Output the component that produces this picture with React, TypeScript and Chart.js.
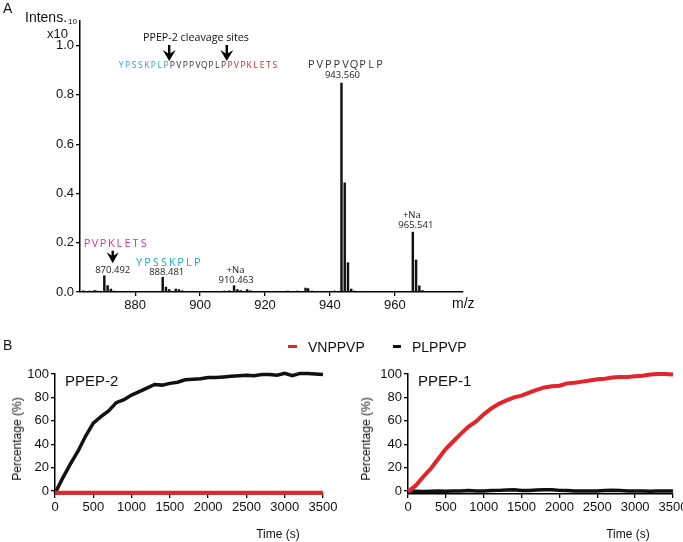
import React, { useEffect, useRef } from "react";
import { Chart, registerables } from "chart.js";
Chart.register(...registerables);

// ---------- Panel A: mass spectrum ----------
const mzValues = [
  864.0, 866.0, 867.5, 868.3, 870.492, 871.5, 872.5, 873.4, 875.0, 878.0, 883.0, 886.0,
  888.481, 889.5, 890.5, 892.5, 893.5, 894.5, 897.0, 901.0, 905.0, 907.5, 909.0,
  910.463, 911.5, 912.5, 914.5, 915.5, 918.0, 921.0, 924.0, 927.0, 930.0, 932.5, 933.3,
  934.5, 936.0, 938.0, 940.0, 941.5, 943.56, 944.56, 945.56, 946.56, 947.5, 950.0,
  964.0, 965.541, 966.54, 967.54, 968.5,
];
const intensities = [
  0.005, 0.004, 0.006, 0.004, 0.066, 0.026, 0.012, 0.004, 0.003, 0.003, 0.003, 0.003,
  0.06, 0.02, 0.01, 0.012, 0.01, 0.005, 0.003, 0.003, 0.003, 0.004, 0.005,
  0.026, 0.01, 0.006, 0.01, 0.005, 0.003, 0.003, 0.003, 0.004, 0.004, 0.016, 0.014,
  0.004, 0.003, 0.003, 0.003, 0.004, 0.848, 0.443, 0.119, 0.012, 0.004, 0.003,
  0.003, 0.243, 0.13, 0.025, 0.006,
];
const mzTicks = [880, 900, 920, 940, 960];
const intensTicks = [0, 0.2, 0.4, 0.6, 0.8, 1.0];

// ---------- Panel B: kinetics ----------
const timeS = [
  0, 100, 200, 300, 400, 500, 600, 700, 800, 900, 1000, 1100, 1200, 1300, 1400, 1500, 1600, 1700,
  1800, 1900, 2000, 2100, 2200, 2300, 2400, 2500, 2600, 2700, 2800, 2900, 3000, 3100, 3200, 3300,
  3400, 3500,
];
const ppep2PLPPVP = [
  -2, 11, 23, 34, 47, 58, 63.5, 68.5, 75.5, 78, 82, 85, 88, 91, 90.5, 92, 93, 95, 95.5, 96, 97, 97,
  97.5, 98, 98.5, 99, 98.5, 99.5, 99.5, 99, 100.5, 98.5, 100.5, 100.5, 100, 99.5,
];
const ppep2VNPPVP = [
  -1.5, -1.5, -1.5, -1.5, -1.5, -1.5, -1.5, -1.5, -1.5, -1.5, -1.5, -1.5, -1.5, -1.5, -1.5, -1.5,
  -1.5, -1.5, -1.5, -1.5, -1.5, -1.5, -1.5, -1.5, -1.5, -1.5, -1.5, -1.5, -1.5, -1.5, -1.5, -1.5,
  -1.5, -1.5, -1.5, -1.5,
];
const ppep1VNPPVP = [
  -0.5, 4.5, 12, 19, 27.5, 36, 42.5, 49, 55, 59.5, 65.5, 70.5, 74.5, 77.5, 80, 81.5, 84, 86.5, 88.5,
  89.5, 90, 92, 92.5, 93.5, 94.5, 95.5, 96, 97, 97.5, 97.5, 98, 98.5, 99.5, 100, 100, 99.5,
];
const ppep1PLPPVP = [
  0, -0.3, -0.5, -0.3, 0, -0.3, 0, 0, 0.3, 0, 0, 0.3, 0.5, 0.8, 1, 0.3, 0.3, 0.8, 1, 1, 0.5, 0.3, 0,
  0, 0, 0, 0.3, 0.5, 0.3, 0, 0, 0, -0.3, 0, 0, 0,
];
const pctTicks = [0, 20, 40, 60, 80, 100];
const timeTicks = [0, 500, 1000, 1500, 2000, 2500, 3000, 3500];

const RED = "#e3242b";
const BLACK = "#111111";
const CYAN = "#22a7d4";
const MAGENTA = "#d9359b";
const AXIS_FONT = "'Liberation Sans', Arial, sans-serif";
const ANN_FONT = "'Open Sans', sans-serif";

function spacedText(ctx: CanvasRenderingContext2D, text: string, colors: string[], startX: number, cy: number, pitch: number, size: number) {
  ctx.font = `${size}px ${ANN_FONT}`;
  ctx.textAlign = "center";
  ctx.textBaseline = "middle";
  for (let i = 0; i < text.length; i++) {
    ctx.fillStyle = colors[i] || colors[colors.length - 1];
    ctx.fillText(text[i], startX + i * pitch + pitch / 2, cy);
  }
}

function arrow(ctx: CanvasRenderingContext2D, x: number, tailY: number, tipY: number, half: number) {
  ctx.fillStyle = "#000";
  const headTop = tipY - 11;
  ctx.fillRect(x - 1.2, tailY, 2.4, headTop - tailY + 4);
  ctx.beginPath();
  ctx.moveTo(x - half, headTop);
  ctx.lineTo(x, headTop + 4);
  ctx.lineTo(x + half, headTop);
  ctx.lineTo(x, tipY);
  ctx.closePath();
  ctx.fill();
}

const annotA = {
  id: "annotA",
  afterDatasetsDraw(chart: any) {
    const { ctx, scales } = chart;
    const xs = scales.x;
    const ys = scales.y;
    const peak = (mz: number) => {
      const i = mzValues.indexOf(mz);
      return { px: xs.getPixelForValue(mz), py: ys.getPixelForValue(intensities[i]) };
    };
    const label = (t: string, x: number, y: number, size = 9.5, color = "#222") => {
      ctx.font = `${size}px ${ANN_FONT}`;
      ctx.fillStyle = color;
      ctx.textAlign = "center";
      ctx.textBaseline = "middle";
      ctx.fillText(t, x, y);
    };
    ctx.save();
    // top sequence with cleavage sites
    label("PPEP-2 cleavage sites", 196, 38, 10.7, "#111");
    const seq = "YPSSKPLPPVPPVQPLPPVPKLETS";
    const cols: string[] = [];
    for (let i = 0; i < seq.length; i++) cols.push(i < 8 ? CYAN : i < 17 ? "#333" : RED);
    spacedText(ctx, seq, cols, 118, 66, 6.4, 8.5);
    arrow(ctx, 118 + 8 * 6.4, 45, 61, 6.5);
    arrow(ctx, 118 + 17 * 6.4, 45, 61, 6.5);

    let p = peak(943.56);
    label("943.560", p.px + 1, p.py - 8);
    spacedText(ctx, "PVPPVQPLP", ["#333"], p.px + 4 - 4.5 * 8.55, p.py - 18, 8.55, 11);

    p = peak(965.541);
    label("965.541", p.px + 3, p.py - 6.5);
    label("+Na", p.px - 1, p.py - 17);

    p = peak(870.492);
    label("870.492", p.px + 8.4, p.py - 5);
    arrow(ctx, p.px + 8.4, p.py - 25, p.py - 12.5, 6);
    spacedText(ctx, "PVPKLETS", [MAGENTA], p.px + 11 - 4 * 8.1, p.py - 32, 8.1, 11);

    p = peak(888.481);
    label("888.481", p.px + 4, p.py - 4.7);
    spacedText(ctx, "YPSSKPLP", [CYAN], p.px + 5.5 - 4 * 8.3, p.py - 14.3, 8.3, 11);

    p = peak(910.463);
    label("910.463", p.px + 2, p.py - 5.7);
    label("+Na", p.px + 1.5, p.py - 15.7);
    ctx.restore();
  },
};

function axisCommon(ticks: number[], fmt: (v: number) => string) {
  return {
    afterBuildTicks: (s: any) => {
      s.ticks = ticks.map((v) => ({ value: v }));
    },
    grid: { display: true, drawOnChartArea: false, drawTicks: true, tickLength: 4, color: "#000", lineWidth: 1.3, offset: false },
    border: { display: true, color: "#000", width: 1.5 },
    ticks: {
      font: { family: AXIS_FONT, size: 13 },
      color: "#111",
      padding: 2,
      maxRotation: 0,
      autoSkip: false,
      callback: (v: any) => fmt(Number(v)),
    },
  };
}

function SpectrumChart() {
  const ref = useRef<HTMLCanvasElement>(null);
  useEffect(() => {
    const chart = new Chart(ref.current!, {
      type: "bar",
      data: {
        datasets: [
          {
            data: mzValues.map((m, i) => ({ x: m, y: intensities[i] })),
            backgroundColor: BLACK,
            borderWidth: 0,
            barThickness: 1.8,
          } as any,
        ],
      },
      options: {
        animation: false,
        responsive: false,
        maintainAspectRatio: false,
        layout: { padding: { top: 21, right: 220, left: 0, bottom: 0 } },
        plugins: { legend: { display: false }, tooltip: { enabled: false } },
        scales: {
          x: {
            type: "linear",
            min: 863,
            max: 981,
            offset: false,
            ...axisCommon(mzTicks, (v) => String(v)),
            afterFit: (s: any) => {
              s.height = 28;
            },
          } as any,
          y: {
            min: 0,
            max: 1.1,
            ...axisCommon(intensTicks, (v) => v.toFixed(1)),
            afterFit: (s: any) => {
              s.width = 80;
            },
          } as any,
        },
      },
      plugins: [annotA],
    });
    return () => chart.destroy();
  }, []);
  return <canvas ref={ref} width={683} height={320} style={{ position: "absolute", left: 0, top: 0, width: 683, height: 320 }} />;
}

function KineticsChart(props: { left: number; width: number; axisX: number; padRight: number; red: number[]; black: number[]; redFirst: boolean }) {
  const ref = useRef<HTMLCanvasElement>(null);
  useEffect(() => {
    const redDs = {
      data: timeS.map((t, i) => ({ x: t, y: props.red[i] })),
      borderColor: RED,
      borderWidth: 4,
      pointRadius: 0,
      tension: 0,
      clip: false,
    };
    const blackDs = {
      data: timeS.map((t, i) => ({ x: t, y: props.black[i] })),
      borderColor: BLACK,
      borderWidth: 3.5,
      pointRadius: 0,
      tension: 0,
      clip: false,
    };
    const chart = new Chart(ref.current!, {
      type: "line",
      data: { datasets: (props.redFirst ? [blackDs, redDs] : [redDs, blackDs]) as any },
      options: {
        animation: false,
        responsive: false,
        maintainAspectRatio: false,
        layout: { padding: { top: 44, right: props.padRight, left: 0, bottom: 0 } },
        plugins: { legend: { display: false }, tooltip: { enabled: false } },
        scales: {
          x: {
            type: "linear",
            min: 0,
            max: 3500,
            ...axisCommon(timeTicks, (v) => String(v)),
            afterFit: (s: any) => {
              s.height = 48;
            },
          } as any,
          y: {
            min: -2.6,
            max: 100,
            ...axisCommon(pctTicks, (v) => String(v)),
            afterFit: (s: any) => {
              s.width = props.axisX - props.left;
            },
          } as any,
        },
      },
    });
    return () => chart.destroy();
  }, []);
  return (
    <canvas
      ref={ref}
      width={props.width}
      height={212}
      style={{ position: "absolute", left: props.left, top: 330, width: props.width, height: 212 }}
    />
  );
}

function Txt(props: { x: number; y: number; size: number; children: any; color?: string; rotate?: boolean; family?: string; align?: "center" | "left" }) {
  const tx = props.align === "left" ? "0" : "-50%";
  return (
    <div
      style={{
        position: "absolute",
        left: props.x,
        top: props.y,
        transform: `translate(${tx}, -50%)${props.rotate ? " rotate(-90deg)" : ""}`,
        fontFamily: props.family || AXIS_FONT,
        fontSize: props.size,
        lineHeight: 1,
        whiteSpace: "nowrap",
        color: props.color || "#111",
      }}
    >
      {props.children}
    </div>
  );
}

export default function App() {
  return (
    <div style={{ position: "absolute", left: 0, top: 0, width: 683, height: 542, overflow: "hidden", background: "#fff" }}>
      <SpectrumChart />
      <KineticsChart left={0} width={341} axisX={55} padRight={18} red={ppep2VNPPVP} black={ppep2PLPPVP} redFirst={false} />
      <KineticsChart left={341} width={352} axisX={408} padRight={20} red={ppep1VNPPVP} black={ppep1PLPPVP} redFirst={false} />

      <Txt x={3} y={8} size={14} align="left">A</Txt>
      <Txt x={25} y={17} size={14} align="left">Intens.</Txt>
      <Txt x={47} y={33} size={13} align="left">x10</Txt>
      <Txt x={68} y={22} size={8} align="left">10</Txt>
      <Txt x={452} y={303} size={14} align="left">m/z</Txt>

      <Txt x={3} y={345} size={14} align="left">B</Txt>
      <div style={{ position: "absolute", left: 288, top: 345, width: 9, height: 3, background: RED }} />
      <Txt x={308} y={347} size={14} align="left">VNPPVP</Txt>
      <div style={{ position: "absolute", left: 393, top: 345, width: 8, height: 3, background: BLACK }} />
      <Txt x={412} y={347} size={14} align="left">PLPPVP</Txt>

      <Txt x={65} y={380} size={15} align="left">PPEP-2</Txt>
      <Txt x={418} y={380} size={15} align="left">PPEP-1</Txt>
      <Txt x={17} y={439} size={12} rotate>Percentage (%)</Txt>
      <Txt x={366} y={439} size={12} rotate>Percentage (%)</Txt>
      <Txt x={278} y={534} size={12}>Time (s)</Txt>
      <Txt x={628} y={534} size={12}>Time (s)</Txt>
    </div>
  );
}
